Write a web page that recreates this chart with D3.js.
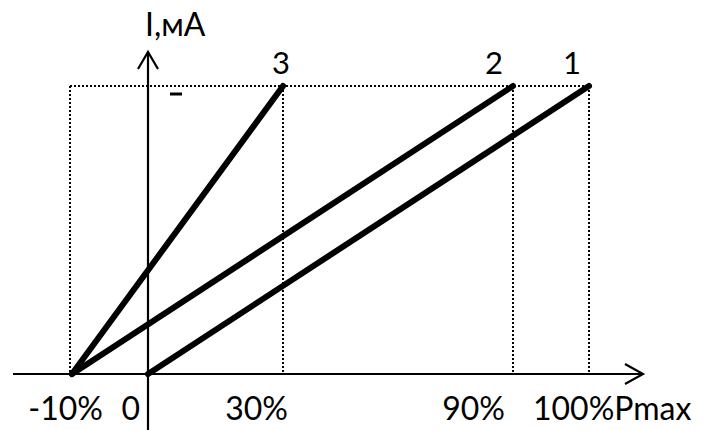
<!DOCTYPE html>
<html>
<head>
<meta charset="utf-8">
<script src="https://cdn.jsdelivr.net/npm/d3@7"></script>
<style>
  body { margin: 0; background: #fff; }
  text { font-family: Lato, "Open Sans", sans-serif; fill: #000; }
</style>
</head>
<body>
<script>
var width = 702, height = 430;

// x ticks (percent of Pmax) and their labels
var xTicks = [-10, 0, 30, 90, 100];
var xLabels = ["-10%", "0", "30%", "90%", "100%Pmax"];
// current, as share of the maximum
var yMax = 1;
// the three characteristics: [P%, I]
var series1 = [[0, 0], [100, 1]];
var series2 = [[-10, 0], [90, 1]];
var series3 = [[-10, 0], [30, 1]];
var seriesNames = ["1", "2", "3"];

// the sketch is not to scale, so the x scale is piecewise
var x = d3.scaleLinear().domain(xTicks).range([72, 148, 283, 513, 589]);
var y = d3.scaleLinear().domain([0, yMax]).range([374, 86]);

var svg = d3.select("body").append("svg")
  .attr("width", width)
  .attr("height", height);

// dotted guide lines
var guides = svg.append("g")
  .attr("stroke", "#000").attr("stroke-width", 2)
  .attr("stroke-dasharray", "2,2").attr("fill", "none")
  .attr("shape-rendering", "crispEdges");
guides.append("line")
  .attr("x1", x(-10) - 2).attr("x2", x(100))
  .attr("y1", y(yMax)).attr("y2", y(yMax));
guides.selectAll("line.v").data([-10, 30, 90, 100])
  .enter().append("line").attr("class", "v")
  .attr("x1", function(d) { return x(d) - (d === -10 ? 2 : 0); })
  .attr("x2", function(d) { return x(d) - (d === -10 ? 2 : 0); })
  .attr("y1", y(yMax)).attr("y2", y(0));

// axes with arrows
var axes = svg.append("g").attr("stroke", "#000").attr("stroke-width", 2.2)
  .attr("fill", "none");
axes.append("line").attr("x1", 13).attr("x2", 643)
  .attr("y1", y(0)).attr("y2", y(0));
axes.append("path").attr("d", "M625,364L643,374L625,384");
axes.append("line").attr("x1", x(0)).attr("x2", x(0))
  .attr("y1", 430).attr("y2", 52);
axes.append("path").attr("d", "M138,69L148,52L158,69");

// stray mark from the original sketch
svg.append("line").attr("x1", 170).attr("x2", 182)
  .attr("y1", 94).attr("y2", 94)
  .attr("stroke", "#000").attr("stroke-width", 3);

// characteristics
var line = d3.line()
  .x(function(d) { return x(d[0]); })
  .y(function(d) { return y(d[1]); });
svg.selectAll("path.s").data([series1, series2, series3])
  .enter().append("path").attr("class", "s")
  .attr("d", line)
  .attr("stroke", "#000").attr("stroke-width", 6)
  .attr("stroke-linecap", "round").attr("fill", "none");

// series numbers over the ends
var nameDx = [-17, -19, -2];
svg.selectAll("text.n").data([series1, series2, series3])
  .enter().append("text").attr("class", "n")
  .attr("x", function(d, i) { return x(d[1][0]) + nameDx[i]; })
  .attr("y", 74)
  .attr("text-anchor", "middle")
  .attr("font-size", 31)
  .text(function(d, i) { return seriesNames[i]; });

// x tick labels
var labelDx = [31, -8, 5, -8, -56];
var labelAnchor = ["end", "end", "end", "end", "start"];
svg.selectAll("text.t").data(xTicks)
  .enter().append("text").attr("class", "t")
  .attr("x", function(d, i) { return x(d) + labelDx[i]; })
  .attr("y", 420)
  .attr("text-anchor", function(d, i) { return labelAnchor[i]; })
  .attr("font-size", 32)
  .text(function(d, i) { return xLabels[i]; });

// y axis title
svg.append("text").attr("x", 145).attr("y", 36)
  .attr("font-size", 32).text("I,мА");
</script>
</body>
</html>
